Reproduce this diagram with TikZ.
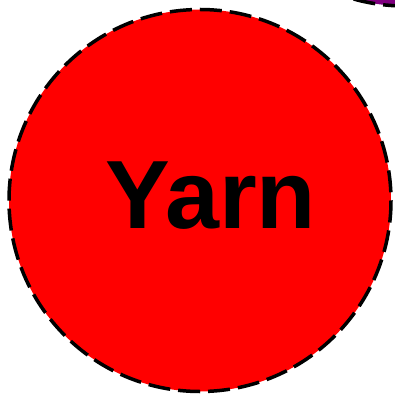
\documentclass[tikz,border=0pt]{standalone}
\usepackage{fontspec}
\setmainfont{Liberation Sans}
\begin{document}
\begin{tikzpicture}[x=1pt,y=-1pt,
  bubble/.style={draw=black,line width=3.5pt,dash pattern=on 22pt off 8pt}]
\useasboundingbox (0,0) rectangle (395,395);
\begin{scope}
\clip (0,0) rectangle (395,395);
\fill[fill={rgb,255:red,128;green,0;blue,128}] (405,-185) circle (191);
\draw[bubble] (405,-185) circle (191);
\end{scope}
\fill[red] (200,200.5) circle (191);
\draw[bubble] (200,200.5) circle (191);
\node[font=\bfseries\fontsize{97}{97}\selectfont, inner sep=0pt, anchor=base] (yarn) at (211,228) {Yarn};
\end{tikzpicture}
\end{document}
